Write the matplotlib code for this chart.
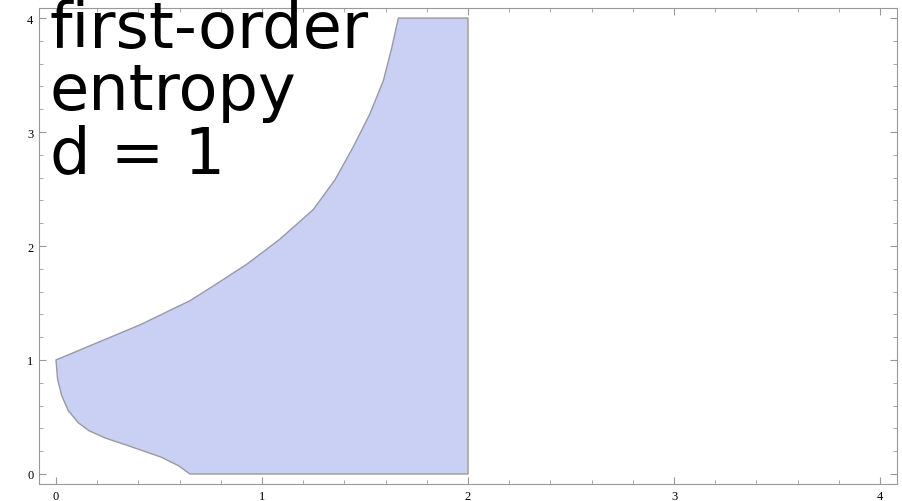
import matplotlib
matplotlib.use("Agg")
import matplotlib.pyplot as plt
from matplotlib.ticker import MultipleLocator

# boundary of the region
lower_x = [0.65, 0.594, 0.513, 0.351, 0.24, 0.16, 0.108, 0.06, 0.028, 0.008, 0.0]
lower_y = [0.0, 0.073, 0.146, 0.248, 0.315, 0.38, 0.45, 0.555, 0.687, 0.83, 1.0]
upper_x = [0.0, 0.165, 0.41, 0.65, 0.764, 0.926, 1.087, 1.249, 1.354,
           1.443, 1.524, 1.589, 1.63, 1.662]
upper_y = [1.0, 1.125, 1.31, 1.52, 1.65, 1.84, 2.06, 2.32, 2.58,
           2.87, 3.16, 3.45, 3.74, 4.0]
right_x = [2.0, 2.0]
right_y = [4.0, 0.0]

label_lines = ["first-order", "entropy", "d = 1"]

xs = lower_x + upper_x[1:] + right_x
ys = lower_y + upper_y[1:] + right_y

fig = plt.figure(figsize=(9.02, 5.02), dpi=100)
ax = fig.add_axes([0.0432, 0.0339, 0.9513, 0.9481])

ax.fill(xs, ys, facecolor="#c9d0f4", edgecolor="#9a9a9a", linewidth=1.0,
        joinstyle="round")

ax.set_xlim(-0.0825, 4.0825)
ax.set_ylim(-0.0877, 4.0877)

ax.xaxis.set_major_locator(MultipleLocator(1))
ax.xaxis.set_minor_locator(MultipleLocator(0.2))
ax.yaxis.set_major_locator(MultipleLocator(1))
ax.yaxis.set_minor_locator(MultipleLocator(0.2))
ax.tick_params(which="both", direction="in", top=True, right=True,
               color="#999999", labelsize=9, pad=4)
ax.tick_params(which="major", length=5, width=0.8)
ax.tick_params(which="minor", length=3, width=0.6)
for lab in ax.get_xticklabels() + ax.get_yticklabels():
    lab.set_family("Liberation Serif")
for s in ax.spines.values():
    s.set_color("#999999")
    s.set_linewidth(0.8)

# big label, one line at a time so the baselines match
baselines = [0.904, 0.781, 0.655]
for txt, yb in zip(label_lines, baselines):
    fig.text(0.0554, yb, txt, fontsize=46, family="DejaVu Sans",
             va="baseline", ha="left", color="black")

fig.savefig("out.png", dpi=100)
